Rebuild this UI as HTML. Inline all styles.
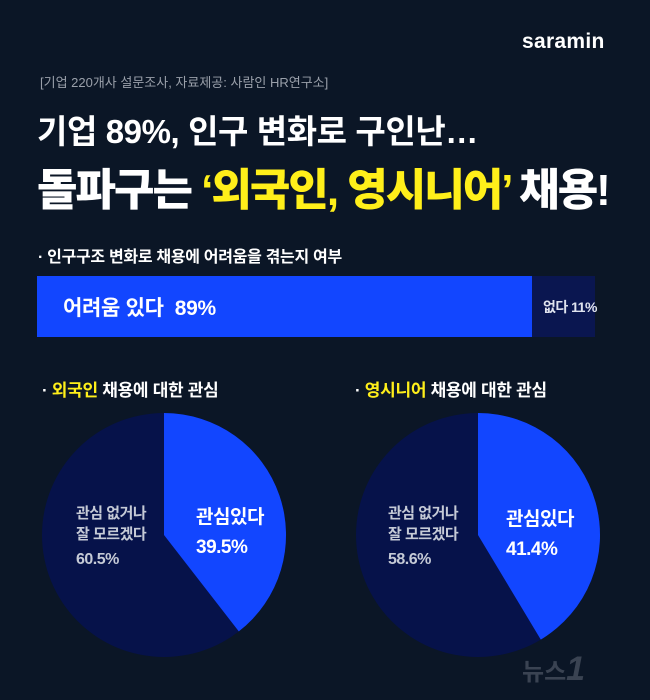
<!DOCTYPE html>
<html><head><meta charset="utf-8"><style>
body{margin:0;width:650px;height:700px;background:#0b1626;overflow:hidden;position:relative;font-family:"Liberation Sans","Noto Sans CJK KR",sans-serif;color:#fff}
.a{position:absolute;white-space:nowrap}
</style></head><body>
<div class="a" style="left:522px;top:30px;font-size:21px;font-weight:bold;letter-spacing:0.3px">saramin</div>
<div class="a" style="left:40px;top:72px;font-size:13px;color:#9aa0aa">[기업 220개사 설문조사, 자료제공: 사람인 HR연구소]</div>
<div class="a" style="left:37px;top:105px;font-size:33px;font-weight:bold;letter-spacing:-0.4px">기업 89%, 인구 변화로 구인난…</div>
<div class="a" style="left:37px;top:154px;font-size:44px;font-weight:900;letter-spacing:-2px">돌파구는 <span style="color:#ffef1a">‘외국인, 영시니어’</span> 채용!</div>
<div class="a" style="left:38px;top:243px;font-size:16px;font-weight:bold;letter-spacing:-0.3px">· 인구구조 변화로 채용에 어려움을 겪는지 여부</div>
<div class="a" style="left:37px;top:276px;width:495px;height:61px;background:#1246ff"></div>
<div class="a" style="left:532px;top:276px;width:63px;height:61px;background:#0a1650"></div>
<div class="a" style="left:63px;top:292px;font-size:21px;font-weight:bold;letter-spacing:-0.3px">어려움 있다&nbsp; 89%</div>
<div class="a" style="left:543px;top:297px;font-size:14px;font-weight:bold;letter-spacing:-0.5px;color:#dfe3ee">없다 11%</div>
<div class="a" style="left:42px;top:376px;font-size:17px;font-weight:bold;letter-spacing:-0.3px">· <span style="color:#ffef1a">외국인</span> 채용에 대한 관심</div>
<div class="a" style="left:355px;top:376px;font-size:17px;font-weight:bold;letter-spacing:-0.3px">· <span style="color:#ffef1a">영시니어</span> 채용에 대한 관심</div>
<svg class="a" style="left:0;top:0" width="650" height="700">
<circle cx="164" cy="535" r="122" fill="#06124a"/>
<path d="M164 535 L164 413 A122 122 0 0 1 238.8 631.4 Z" fill="#1246ff"/>
<circle cx="478" cy="535" r="122" fill="#06124a"/>
<path d="M478 535 L478 413 A122 122 0 0 1 540.8 639.6 Z" fill="#1246ff"/>
</svg>
<div class="a" style="left:76px;top:503px;font-size:15px;line-height:21px;color:#c5cad6;font-weight:bold;letter-spacing:-0.5px">관심 없거나<br>잘 모르겠다<div style="margin-top:4px;font-size:16px">60.5%</div></div>
<div class="a" style="left:196px;top:503px;font-size:19px;line-height:30px;font-weight:bold;letter-spacing:-0.5px">관심있다<br>39.5%</div>
<div class="a" style="left:388px;top:503px;font-size:15px;line-height:21px;color:#c5cad6;font-weight:bold;letter-spacing:-0.5px">관심 없거나<br>잘 모르겠다<div style="margin-top:4px;font-size:16px">58.6%</div></div>
<div class="a" style="left:506px;top:505px;font-size:19px;line-height:30px;font-weight:bold;letter-spacing:-0.5px">관심있다<br>41.4%</div>
<div class="a" style="left:522px;top:650px;font-size:24px;font-weight:bold;color:#3a4352">뉴스<span style="font-style:italic;font-size:34px">1</span></div>
</body></html>
